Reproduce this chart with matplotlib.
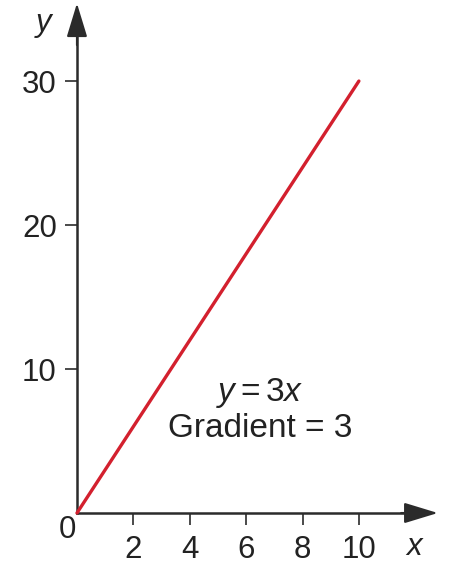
import matplotlib.pyplot as plt

# --- datos ---
x_line = [0, 10]
y_line = [0, 30]
x_ticks = [2, 4, 6, 8, 10]
y_ticks = [10, 20, 30]

RED = '#d3202e'
AXIS = '#2b2b2b'
TXT = '#222222'

plt.rcParams['font.family'] = ['Liberation Sans', 'DejaVu Sans']
plt.rcParams['mathtext.fontset'] = 'custom'
plt.rcParams['mathtext.rm'] = 'Liberation Sans'
plt.rcParams['mathtext.it'] = 'Liberation Sans:italic'

fig = plt.figure(figsize=(4.57, 5.68), dpi=100)
ax = fig.add_axes([0, 0, 1, 1])
ax.set_xlim(-2.73, 13.48)
ax.set_ylim(-3.82, 35.63)

# ejes en el origen
for s in ['top', 'right']:
    ax.spines[s].set_visible(False)
ax.spines['left'].set_position(('data', 0))
ax.spines['bottom'].set_position(('data', 0))
ax.spines['left'].set_bounds(0, 34.0)
ax.spines['bottom'].set_bounds(0, 12.0)
for s in ['left', 'bottom']:
    ax.spines[s].set_linewidth(1.8)
    ax.spines[s].set_color(AXIS)

# puntas de flecha
head = '-|>,head_length=1.05,head_width=0.32'
ax.annotate('', xy=(0, 35.4), xytext=(0, 32.5),
            arrowprops=dict(arrowstyle=head, color=AXIS, lw=1.5, mutation_scale=20,
                            shrinkA=0, shrinkB=0))
ax.annotate('', xy=(12.8, 0), xytext=(11.5, 0),
            arrowprops=dict(arrowstyle=head, color=AXIS, lw=1.5, mutation_scale=20,
                            shrinkA=0, shrinkB=0))

ax.set_xticks(x_ticks)
ax.set_yticks(y_ticks)
ax.tick_params(axis='both', direction='out', length=8.5, width=1.2, color=AXIS,
               labelsize=22.5, labelcolor=TXT)
ax.tick_params(axis='x', pad=7)
ax.tick_params(axis='y', pad=6)

# recta y = 3x
ax.plot(x_line, y_line, color=RED, lw=2.4, solid_capstyle='round', zorder=3)

# etiquetas
ax.text(-0.35, -1.2, '0', fontsize=22.5, ha='center', va='center', color=TXT)
ax.text(11.95, -2.35, 'x', fontsize=22.5, style='italic', ha='center', va='center', color=TXT)
ax.text(-1.2, 34.0, 'y', fontsize=22.5, style='italic', ha='center', va='center', color=TXT)

ax.text(6.49, 8.33, r'$y = 3x$', fontsize=24, ha='center', va='center', color=TXT)
ax.text(6.49, 5.9, 'Gradient = 3', fontsize=24, ha='center', va='center', color=TXT)

fig.savefig('out.png', dpi=100)
